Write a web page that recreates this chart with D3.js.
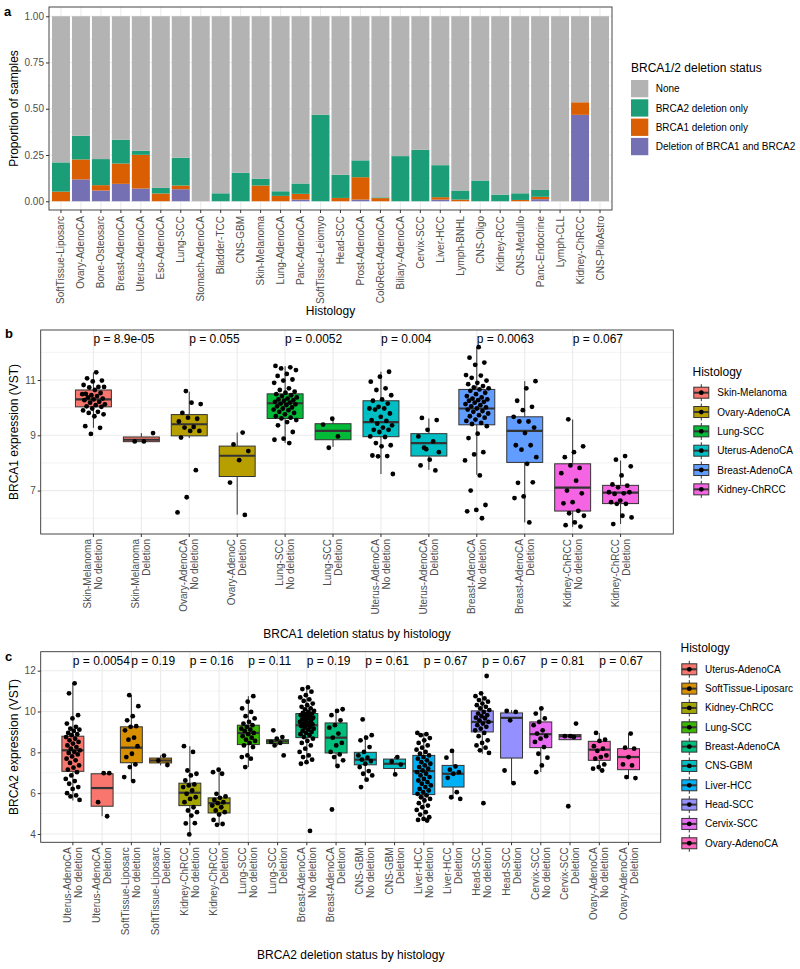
<!DOCTYPE html>
<html><head><meta charset="utf-8">
<script src="https://cdn.jsdelivr.net/npm/d3@7"></script>
<style>body{margin:0;background:#fff}svg{display:block;font-family:"Liberation Sans",Arial,sans-serif}</style>
</head><body>
<script>
// ---------- Panel a data ----------
const histA = ["SoftTissue-Liposarc","Ovary-AdenoCA","Bone-Osteosarc","Breast-AdenoCA","Uterus-AdenoCA","Eso-AdenoCA","Lung-SCC","Stomach-AdenoCA","Bladder-TCC","CNS-GBM","Skin-Melanoma","Lung-AdenoCA","Panc-AdenoCA","SoftTissue-Leiomyo","Head-SCC","Prost-AdenoCA","ColoRect-AdenoCA","Biliary-AdenoCA","Cervix-SCC","Liver-HCC","Lymph-BNHL","CNS-Oligo","Kidney-RCC","CNS-Medullo","Panc-Endocrine","Lymph-CLL","Kidney-ChRCC","CNS-PiloAstro"];
const bothDel  = [0,0.118,0.058,0.094,0.069,0,0.065,0,0,0,0,0,0.009,0,0,0.009,0,0,0,0.009,0,0,0,0,0.011,0,0.467,0];
const brca1Only= [0.052,0.108,0.029,0.110,0.182,0.042,0.020,0,0,0,0.085,0.029,0.031,0,0.018,0.121,0.017,0,0,0.013,0.009,0,0,0.007,0.013,0,0.068,0];
const brca2Only= [0.158,0.128,0.141,0.129,0.022,0.030,0.150,0,0.043,0.154,0.036,0.025,0.056,0.468,0.125,0.091,0.004,0.244,0.278,0.173,0.049,0.112,0.036,0.036,0.037,0,0,0];
const statusLabels = ["None","BRCA2 deletion only","BRCA1 deletion only","Deletion of BRCA1 and BRCA2"];
const statusColors = ["#B3B3B3","#1B9E77","#D95F02","#7570B3"];
const yTicksA = [0,0.25,0.5,0.75,1];

// ---------- Panel b data ----------
const histB = ["Skin-Melanoma","Ovary-AdenoCA","Lung-SCC","Uterus-AdenoCA","Breast-AdenoCA","Kidney-ChRCC"];
const colorsB = ["#F8766D","#B79F00","#00BA38","#00BFC4","#619CFF","#F564E3"];
const groupsB = ["Skin-Melanoma\nNo deletion","Skin-Melanoma\nDeletion","Ovary-AdenoCA\nNo deletion","Ovary-AdenoC\nDeletion","Lung-SCC\nNo deletion","Lung-SCC\nDeletion","Uterus-AdenoCA\nNo deletion","Uterus-AdenoCA\nDeletion","Breast-AdenoCA\nNo deletion","Breast-AdenoCA\nDeletion","Kidney-ChRCC\nNo deletion","Kidney-ChRCC\nDeletion"];
// [lower whisker, q1, median, q3, upper whisker]
const boxB = [[9.27,10.03,10.30,10.64,11.27],[8.77,8.77,8.84,8.94,9.08],[8.9,8.98,9.40,9.75,10.58],[6.13,7.51,8.26,8.61,9.1],[8.72,9.61,10.16,10.5,11.5],[8.58,8.84,9.16,9.42,9.61],[7.6,8.95,9.48,10.25,11.3],[7.75,8.25,8.72,9.06,9.61],[7.57,9.38,9.97,10.66,12.19],[5.85,8.02,9.16,9.67,10.96],[5.69,6.26,7.11,7.97,9.57],[5.79,6.53,6.93,7.19,8.09]];
const ptsB = [
 [11.28,11.06,10.98,10.95,10.82,10.75,10.73,10.75,10.64,10.5,10.53,10.45,10.49,10.42,10.37,10.33,10.3,10.27,10.21,10.18,10.12,10.09,10.05,10.03,9.97,9.9,9.85,9.81,9.76,9.69,9.33,9.27,9.05],
 [9.08,8.78,8.78],
 [10.6,10.13,10.18,9.81,9.6,9.64,9.5,9.3,9.28,9.16,9.16,8.92,7.74,6.76,6.21],
 [9.1,8.67,8.43,8.1,7.29,6.12],
 [11.51,11.46,11.42,11.36,11.22,11.15,11.02,10.98,10.9,10.7,10.64,10.58,10.54,10.49,10.45,10.42,10.37,10.33,10.3,10.27,10.25,10.21,10.18,10.15,10.12,10.09,10.05,10.01,9.97,9.93,9.91,9.85,9.81,9.76,9.69,9.64,9.61,9.55,9.48,9.36,9.12,8.88,8.84,8.72],
 [9.6,9.39,8.96,8.55],
 [11.3,11.12,10.94,10.7,10.64,10.45,10.3,10.25,10.15,10.03,9.97,9.97,9.93,9.79,9.67,9.55,9.52,9.42,9.36,9.28,9.2,9.2,9.12,8.96,8.94,8.72,8.64,8.6,8.27,8.25,8.24,7.6],
 [9.63,9.55,9.2,8.96,8.78,8.55,8.39,8.12,7.91,7.73,8.5],
 [12.19,11.81,11.63,11.55,11.18,11.16,11.08,10.98,10.9,10.85,10.78,10.73,10.7,10.66,10.61,10.54,10.49,10.42,10.37,10.33,10.3,10.27,10.25,10.21,10.18,10.13,10.09,10.05,10.01,9.97,9.93,9.88,9.85,9.79,9.73,9.69,9.64,9.57,9.52,9.45,9.41,9.33,9.06,8.9,8.39,8.31,8.09,7.55,7.0,6.48,6.3,6.25,6.0],
 [10.96,10.7,10.25,10.03,9.91,9.67,9.5,9.5,9.28,9.08,8.64,8.64,8.48,8.21,7.97,7.28,7.3,6.79,6.73,5.85],
 [9.58,8.6,8.39,8.21,7.82,7.91,7.63,7.36,7.0,6.9,6.58,6.54,6.27,6.18,6.09,5.85,5.75,5.7],
 [8.25,8.12,7.88,7.55,7.22,7.18,7.12,6.94,6.9,6.88,6.94,6.64,6.58,6.52,6.52,6.03,6.09,5.79]
];
const pB = ["p = 8.9e-05","p = 0.055","p = 0.0052","p = 0.004","p = 0.0063","p = 0.067"];
const yTicksB = [7,9,11];

// ---------- Panel c data ----------
const histC = ["Uterus-AdenoCA","SoftTissue-Liposarc","Kidney-ChRCC","Lung-SCC","Breast-AdenoCA","CNS-GBM","Liver-HCC","Head-SCC","Cervix-SCC","Ovary-AdenoCA"];
const colorsC = ["#F8766D","#D89000","#A3A500","#39B600","#00BF7D","#00BFC4","#00B0F6","#9590FF","#E76BF3","#FF62BC"];
const groupsC = histC.flatMap(h => [h + "\nNo deletion", h + "\nDeletion"]);
const boxC = [[5.64,7.07,8.1,8.79,11.38],[4.87,5.36,6.25,6.95,6.98],[6.59,7.49,8.23,9.25,10.8],[7.36,7.48,7.6,7.72,7.85],[3.98,5.39,6.02,6.49,8.3],[4.45,5.03,5.51,5.77,7.15],[7.28,8.38,8.95,9.33,10.75],[8.34,8.43,8.54,8.62,8.75],[7.44,8.72,9.33,9.9,11.18],[7.28,7.97,8.72,9.44,10.11],[6.62,7.39,7.64,8.0,8.84],[6.92,7.21,7.44,7.67,7.77],[4.66,5.93,7.08,7.85,8.95],[5.72,6.3,6.95,7.36,8.02],[7.93,9.0,9.49,10.03,10.89],[6.49,7.72,9.69,9.93,10.07],[7.03,8.23,8.89,9.49,10.15],[8.62,8.62,8.79,8.87,8.87],[7.11,7.61,8.13,8.54,8.95],[6.7,7.15,7.77,8.18,8.92]];
const ptsC = [
 [11.38,10.89,9.82,9.66,9.41,9.25,9.16,9.11,9.05,8.95,8.89,8.84,8.75,8.67,8.59,8.51,8.43,8.34,8.26,8.18,8.1,8.02,7.97,7.9,7.8,7.69,7.61,7.48,7.36,7.25,7.15,7.03,6.87,6.7,6.59,6.46,6.3,6.21,6.0,5.89,5.84,5.67],
 [6.98,6.98,5.56,4.87],
 [10.8,10.26,9.77,9.57,9.28,9.25,9.08,8.72,8.62,8.3,7.93,7.77,7.41,7.28,6.79,6.59],
 [7.84,7.6,7.38],
 [8.3,8.02,7.11,6.95,6.87,6.62,6.43,6.38,6.3,6.13,5.97,5.8,5.72,5.56,5.31,5.15,5.07,4.9,4.52,4.53,3.98],
 [7.15,7.03,6.95,5.97,5.84,5.77,5.67,5.56,5.51,5.39,5.31,5.15,5.07,4.95,4.69,4.49,4.45],
 [10.75,10.48,10.15,9.98,9.77,9.66,9.49,9.41,9.33,9.25,9.16,9.11,9.05,8.95,8.89,8.79,8.72,8.62,8.56,8.46,8.34,8.26,7.85,7.77,7.69,7.28],
 [9.08,8.75,8.67,8.51,8.46,8.34,7.85],
 [11.18,11.1,10.97,10.8,10.69,10.59,10.52,10.39,10.31,10.23,10.15,10.1,10.03,9.98,9.93,9.9,9.87,9.82,9.77,9.74,9.7,9.66,9.61,9.57,9.54,9.49,9.44,9.41,9.38,9.33,9.28,9.25,9.21,9.16,9.11,9.05,9.0,8.95,8.89,8.84,8.75,8.67,8.56,8.46,8.34,8.18,8.02,7.85,7.77,7.64,7.52,7.44,4.15],
 [10.11,10.03,9.82,9.57,9.33,9.21,8.92,8.72,8.46,8.34,8.02,7.9,7.77,7.61,7.33,5.2],
 [9.61,8.84,8.72,8.59,8.26,8.02,7.85,7.74,7.64,7.57,7.44,7.28,7.08,6.95,6.87,6.66,6.3],
 [7.77,7.55,7.4,6.92],
 [8.95,8.89,8.84,8.7,8.59,8.46,8.34,8.23,8.13,8.02,7.93,7.85,7.77,7.69,7.61,7.52,7.44,7.36,7.28,7.2,7.11,7.03,6.95,6.87,6.79,6.7,6.62,6.54,6.46,6.38,6.3,6.21,6.13,6.05,5.97,5.89,5.8,5.72,5.64,5.51,5.39,5.31,5.18,5.07,4.95,4.82,4.74,4.69,4.66],
 [8.07,7.74,7.31,7.15,7.03,6.95,6.75,6.05,5.8,5.72],
 [11.74,10.89,10.75,10.64,10.56,10.48,10.39,10.31,10.23,10.15,10.07,9.98,9.9,9.82,9.77,9.7,9.66,9.57,9.49,9.41,9.33,9.25,9.16,9.08,8.95,8.79,8.59,8.46,8.34,8.23,8.1,7.97,5.51],
 [10.03,9.98,9.57,7.11,6.49],
 [10.15,9.9,9.66,9.49,9.33,9.08,8.92,8.79,8.67,8.51,8.26,7.93,7.74,7.36,7.03],
 [9.41,8.79,8.79,8.75,5.36],
 [8.95,8.62,8.56,8.3,8.18,8.07,7.85,7.77,7.69,7.41,7.28,7.2,7.11],
 [8.92,8.23,8.18,7.77,7.41,7.36,6.79,6.74]
];
const pC = ["p = 0.0054","p = 0.19","p = 0.16","p = 0.11","p = 0.19","p = 0.61","p = 0.67","p = 0.67","p = 0.81","p = 0.67"];
const yTicksC = [4,6,8,10,12];

// ---------- drawing ----------
const W = 800, H = 969;
const svg = d3.select("body").append("svg").attr("width", W).attr("height", H);
const AX = "#4D4D4D", GRID = "#EBEBEB", BORDER = "#333333";
const FONT = '"Liberation Sans", Arial, sans-serif';

function panelLetter(t, x, y){ svg.append("text").attr("x",x).attr("y",y).attr("font-size",13).attr("font-weight","bold").text(t); }

// ===== Panel a =====
(function(){
  const L=49, R=612, T=7, B=210;
  const x = d3.scaleBand().domain(histA).range([L,R]).paddingInner(0.1).paddingOuter(0.15);
  const y = d3.scaleLinear().domain([-0.05,1.05]).range([B+0.5,T]);
  const g = svg.append("g");
  // grid
  const minor = [0.125,0.375,0.625,0.875];
  g.selectAll(".mn").data(minor).join("line").attr("x1",L).attr("x2",R).attr("y1",d=>y(d)).attr("y2",d=>y(d)).attr("stroke",GRID).attr("stroke-width",0.6);
  g.selectAll(".mj").data(yTicksA).join("line").attr("x1",L).attr("x2",R).attr("y1",d=>y(d)).attr("y2",d=>y(d)).attr("stroke",GRID).attr("stroke-width",1.1);
  g.selectAll(".vx").data(histA).join("line").attr("x1",d=>x(d)+x.bandwidth()/2).attr("x2",d=>x(d)+x.bandwidth()/2).attr("y1",T).attr("y2",B).attr("stroke",GRID).attr("stroke-width",1.1);
  // stack
  const rows = histA.map((h,i)=>({h, both:bothDel[i], b1:brca1Only[i], b2:brca2Only[i], none:1-bothDel[i]-brca1Only[i]-brca2Only[i]}));
  const keys = ["both","b1","b2","none"];
  const cols = {both:statusColors[3], b1:statusColors[2], b2:statusColors[1], none:statusColors[0]};
  const st = d3.stack().keys(keys)(rows);
  st.forEach(layer=>{
    g.selectAll(null).data(layer).join("rect")
      .attr("x",d=>x(d.data.h)).attr("width",x.bandwidth())
      .attr("y",d=>y(d[1])).attr("height",d=>Math.max(0,y(d[0])-y(d[1])))
      .attr("fill",cols[layer.key]);
  });
  g.append("rect").attr("x",L).attr("y",T).attr("width",R-L).attr("height",B-T).attr("fill","none").attr("stroke",BORDER).attr("stroke-width",0.9);
  // axes
  const ya = g.append("g").attr("transform",`translate(${L},0)`).call(d3.axisLeft(y).tickValues(yTicksA).tickFormat(d3.format(".2f")).tickSize(3).tickPadding(2));
  const xa = g.append("g").attr("transform",`translate(0,${B})`).call(d3.axisBottom(x).tickSize(3).tickPadding(2));
  [ya,xa].forEach(a=>{a.select(".domain").remove(); a.selectAll("line").attr("stroke",BORDER); a.selectAll("text").attr("fill",AX).attr("font-size",10).attr("font-family",FONT);});
  xa.selectAll("text").attr("transform","rotate(-90)").attr("text-anchor","end").attr("dy",null).attr("y",0).attr("x",-6).attr("dominant-baseline","central");
  g.append("text").attr("x",(L+R)/2).attr("y",315).attr("text-anchor","middle").attr("font-size",12).text("Histology");
  g.append("text").attr("transform",`translate(18,${(T+B)/2}) rotate(-90)`).attr("text-anchor","middle").attr("font-size",12).text("Proportion of samples");
  // legend
  const lg = g.append("g");
  lg.append("text").attr("x",631).attr("y",71.5).attr("font-size",12).text("BRCA1/2 deletion status");
  statusLabels.forEach((s,i)=>{
    const yy = 80 + i*19.3;
    lg.append("rect").attr("x",631).attr("y",yy).attr("width",17.3).attr("height",17.3).attr("fill",statusColors[i]);
    lg.append("text").attr("x",655.7).attr("y",yy+8.7).attr("dominant-baseline","central").attr("font-size",10).text(s);
  });
})();
panelLetter("a",4,16);

// ===== box panels =====
function boxPanel(o){
  const {L,R,T,B,domain,groups,boxes,pts,colorOf,ticks,minorTicks,pLabels,pY,xTitle,xTitleY,yTitle,legendX,legendTitleY,legendRow0,hist,colors,labelX} = o;
  const x = d3.scaleBand().domain(groups).range([L,R]).paddingInner(0).paddingOuter(0.6);
  const y = d3.scaleLinear().domain(domain).range([B,T]);
  const step = x.step(), bw = 0.75*step;
  const cx = d => x(d)+step/2;
  const g = svg.append("g");
  g.selectAll(null).data(minorTicks).join("line").attr("x1",L).attr("x2",R).attr("y1",d=>y(d)).attr("y2",d=>y(d)).attr("stroke",GRID).attr("stroke-width",0.6);
  g.selectAll(null).data(ticks).join("line").attr("x1",L).attr("x2",R).attr("y1",d=>y(d)).attr("y2",d=>y(d)).attr("stroke",GRID).attr("stroke-width",1.1);
  g.selectAll(null).data(groups).join("line").attr("x1",cx).attr("x2",cx).attr("y1",T).attr("y2",B).attr("stroke",GRID).attr("stroke-width",1.1);
  groups.forEach((grp,i)=>{
    const [lo,q1,md,q3,hi] = boxes[i];
    const c = cx(grp);
    g.append("line").attr("x1",c).attr("x2",c).attr("y1",y(hi)).attr("y2",y(q3)).attr("stroke",BORDER).attr("stroke-width",1);
    g.append("line").attr("x1",c).attr("x2",c).attr("y1",y(q1)).attr("y2",y(lo)).attr("stroke",BORDER).attr("stroke-width",1);
    g.append("rect").attr("x",c-bw/2).attr("width",bw).attr("y",y(q3)).attr("height",Math.max(0.5,y(q1)-y(q3))).attr("fill",colorOf(i)).attr("stroke",BORDER).attr("stroke-width",1);
    g.append("line").attr("x1",c-bw/2).attr("x2",c+bw/2).attr("y1",y(md)).attr("y2",y(md)).attr("stroke",BORDER).attr("stroke-width",2.2);
  });
  groups.forEach((grp,i)=>{
    const c = cx(grp);
    g.selectAll(null).data(pts[i]).join("circle")
      .attr("cx",(d,j)=> c + ((((j+1)*0.6180339887 + i*0.37) % 1) - 0.5) * 0.5 * step)
      .attr("cy",d=>y(d)).attr("r",2.4).attr("fill","#000");
  });
  pLabels.forEach((p,k)=>{
    g.append("text").attr("x",cx(groups[2*k])).attr("y",y(pY)).attr("dominant-baseline","central").attr("font-size",12).text(p);
  });
  g.append("rect").attr("x",L).attr("y",T).attr("width",R-L).attr("height",B-T).attr("fill","none").attr("stroke",BORDER).attr("stroke-width",0.9);
  const ya = g.append("g").attr("transform",`translate(${L},0)`).call(d3.axisLeft(y).tickValues(ticks).tickFormat(d3.format("d")).tickSize(3).tickPadding(2));
  const xa = g.append("g").attr("transform",`translate(0,${B})`).call(d3.axisBottom(x).tickSize(3).tickFormat(""));
  [ya,xa].forEach(a=>{a.select(".domain").remove(); a.selectAll("line").attr("stroke",BORDER); a.selectAll("text").attr("fill",AX).attr("font-size",10).attr("font-family",FONT);});
  groups.forEach(grp=>{
    const lines = grp.split("\n");
    const t = g.append("text").attr("transform",`translate(${cx(grp)},${B+5}) rotate(-90)`).attr("text-anchor","end").attr("font-size",10).attr("fill",AX);
    lines.forEach((ln,k)=> t.append("tspan").attr("x",0).attr("y",(k-(lines.length-1)/2)*11).attr("dominant-baseline","central").text(ln));
  });
  g.append("text").attr("x",(L+R)/2).attr("y",xTitleY).attr("text-anchor","middle").attr("font-size",12).text(xTitle);
  g.append("text").attr("transform",`translate(18,${(T+B)/2}) rotate(-90)`).attr("text-anchor","middle").attr("font-size",12).text(yTitle);
  // legend
  const lg = g.append("g");
  lg.append("text").attr("x",legendX).attr("y",legendTitleY).attr("font-size",12).text("Histology");
  hist.forEach((h,i)=>{
    const yc = legendRow0 + i*19.33, xc = legendX + 8.8;
    lg.append("line").attr("x1",xc).attr("x2",xc).attr("y1",yc-8.5).attr("y2",yc+8.5).attr("stroke",BORDER).attr("stroke-width",1);
    lg.append("rect").attr("x",xc-7.5).attr("y",yc-5.5).attr("width",15).attr("height",11).attr("fill",colors[i]).attr("stroke",BORDER).attr("stroke-width",1);
    lg.append("line").attr("x1",xc-7.5).attr("x2",xc+7.5).attr("y1",yc).attr("y2",yc).attr("stroke",BORDER).attr("stroke-width",2);
    lg.append("circle").attr("cx",xc).attr("cy",yc).attr("r",2.4).attr("fill","#000");
    lg.append("text").attr("x",labelX).attr("y",yc).attr("dominant-baseline","central").attr("font-size",10).text(h);
  });
}

boxPanel({L:40.7,R:673.3,T:330,B:534,domain:[5.43,12.81],groups:groupsB,boxes:boxB,pts:ptsB,
  colorOf:i=>colorsB[Math.floor(i/2)],ticks:yTicksB,minorTicks:[6,8,10,12],pLabels:pB,pY:12.48,
  xTitle:"BRCA1 deletion status by histology",xTitleY:637.5,yTitle:"BRCA1 expression (VST)",
  legendX:692.5,legendTitleY:376,legendRow0:392.7,hist:histB,colors:colorsB,labelX:717.3});
panelLetter("b",5,338);

boxPanel({L:40.7,R:660.7,T:651.7,B:842.3,domain:[3.593,12.93],groups:groupsC,boxes:boxC,pts:ptsC,
  colorOf:i=>colorsC[Math.floor(i/2)],ticks:yTicksC,minorTicks:[5,7,9,11],pLabels:pC,pY:12.475,
  xTitle:"BRCA2 deletion status by histology",xTitleY:959,yTitle:"BRCA2 expression (VST)",
  legendX:680.5,legendTitleY:652,legendRow0:669.3,hist:histC,colors:colorsC,labelX:705});
panelLetter("c",5,661);
</script>
</body></html>
